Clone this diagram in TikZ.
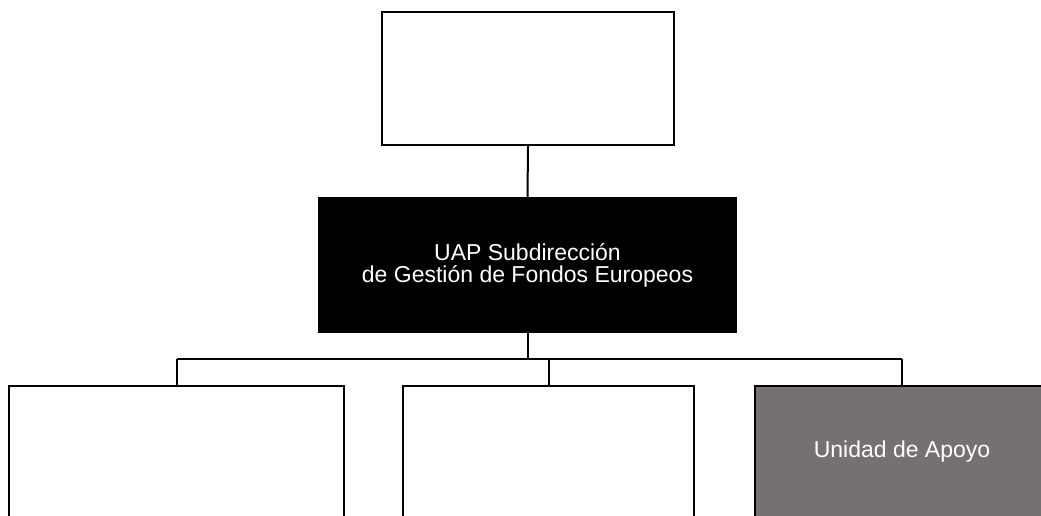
\documentclass[tikz,border=0pt]{standalone}
\usepackage{fontspec}
\setmainfont{Liberation Sans}
\usepackage{xcolor}
\usetikzlibrary{positioning}
\definecolor{cUnit}{HTML}{767170}

\begin{document}
\begin{tikzpicture}[x=1pt,y=-1pt,line width=2pt,
    box/.style={draw=black,fill=white,minimum width=#1,minimum height=133pt,inner sep=0pt},
    lbl/.style={font=\fontsize{23}{22}\selectfont,text=white,align=center}]
  \clip (0,0) rectangle (1041,515);
  \fill[white] (0,0) rectangle (1041,515);
  % upper levels
  \node[box=292pt] (top) at (528,78.5) {};
  \node[box=417pt,fill=black,minimum height=134pt,lbl] (uap) at (527.5,265)
     {UAP Subdirecci\'on\\de Gesti\'on de Fondos Europeos};
  % lower level
  \node[box=335pt,minimum height=132pt] (left) at (176.5,452) {};
  \node[box=291pt,minimum height=132pt] (mid) at (548.5,452) {};
  \node[box=294pt,minimum height=132pt,fill=cUnit,lbl] (unit) at (902,452) {Unidad de Apoyo};
  \coordinate (bus) at (528,359);
  % connectors
  \draw (top.south) -- (uap.north);
  \draw (uap.south) -- (uap.south |- bus);
  \draw (left.north |- bus) -- (unit.north |- bus);
  \foreach \n in {left,mid,unit}
    \draw (\n.north |- bus) -- (\n.north);
\end{tikzpicture}
\end{document}
